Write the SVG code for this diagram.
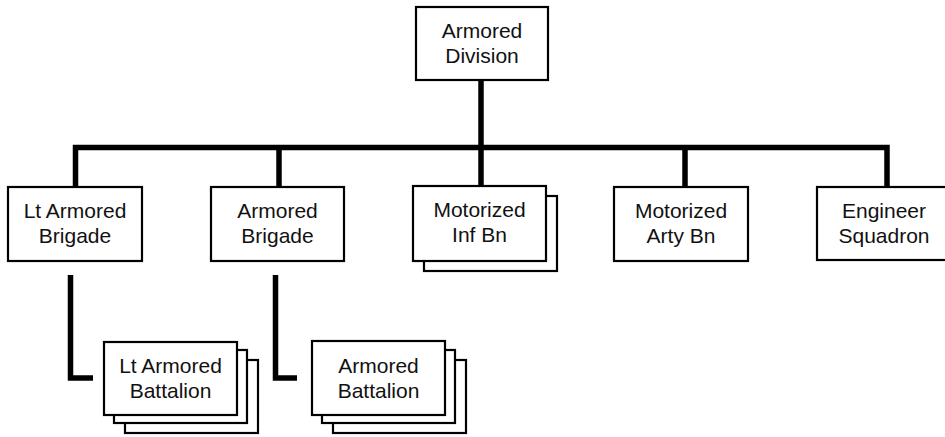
<svg xmlns="http://www.w3.org/2000/svg" width="945" height="437" viewBox="0 0 945 437">
<style>
.box{fill:#fff;stroke:#000;stroke-width:2.2}
.lbl{font-family:"Liberation Sans",Arial,Helvetica,sans-serif;font-size:21px;fill:#111;text-anchor:middle}
.con{fill:none;stroke:#000;stroke-width:5.5;stroke-linejoin:miter;stroke-linecap:butt}
</style>
<rect width="945" height="437" fill="#fff"/>
<g id="connectors">
<path class="con" d="M481 80V147.5"/>
<path class="con" d="M75.5 187V147.5H887V187"/>
<path class="con" d="M279 147.5V187"/>
<path class="con" d="M481 147.5V186"/>
<path class="con" d="M685 147.5V187"/>
<path class="con" d="M70.5 275V378H93"/>
<path class="con" d="M275.5 275V378H297"/>
</g>
<g id="armored-division">
<rect class="box" x="416" y="7" width="132" height="73"/>
<text class="lbl" x="482" y="38">Armored</text>
<text class="lbl" x="482" y="63">Division</text>
</g>
<g id="lt-armored-brigade">
<rect class="box" x="8" y="187" width="134" height="74"/>
<text class="lbl" x="75" y="218">Lt Armored</text>
<text class="lbl" x="75" y="243">Brigade</text>
</g>
<g id="armored-brigade">
<rect class="box" x="211" y="187" width="133" height="74"/>
<text class="lbl" x="277.5" y="218">Armored</text>
<text class="lbl" x="277.5" y="243">Brigade</text>
</g>
<g id="motorized-inf-bn">
<rect class="box" x="424" y="196" width="133" height="75"/>
<rect class="box" x="413" y="186" width="133" height="75"/>
<text class="lbl" x="479.5" y="217">Motorized</text>
<text class="lbl" x="479.5" y="242">Inf Bn</text>
</g>
<g id="motorized-arty-bn">
<rect class="box" x="614" y="187" width="134" height="74"/>
<text class="lbl" x="681" y="218">Motorized</text>
<text class="lbl" x="681" y="243">Arty Bn</text>
</g>
<g id="engineer-squadron">
<rect class="box" x="817" y="187" width="134" height="73"/>
<text class="lbl" x="884" y="218">Engineer</text>
<text class="lbl" x="884" y="243">Squadron</text>
</g>
<g id="lt-armored-battalion">
<rect class="box" x="125" y="360" width="133" height="73"/>
<rect class="box" x="114" y="350" width="133" height="73"/>
<rect class="box" x="104" y="342" width="133" height="73"/>
<text class="lbl" x="170.5" y="373">Lt Armored</text>
<text class="lbl" x="170.5" y="398">Battalion</text>
</g>
<g id="armored-battalion">
<rect class="box" x="333" y="360" width="133" height="73"/>
<rect class="box" x="322" y="350" width="133" height="73"/>
<rect class="box" x="312" y="341" width="133" height="74"/>
<text class="lbl" x="378.5" y="373">Armored</text>
<text class="lbl" x="378.5" y="398">Battalion</text>
</g>
</svg>
